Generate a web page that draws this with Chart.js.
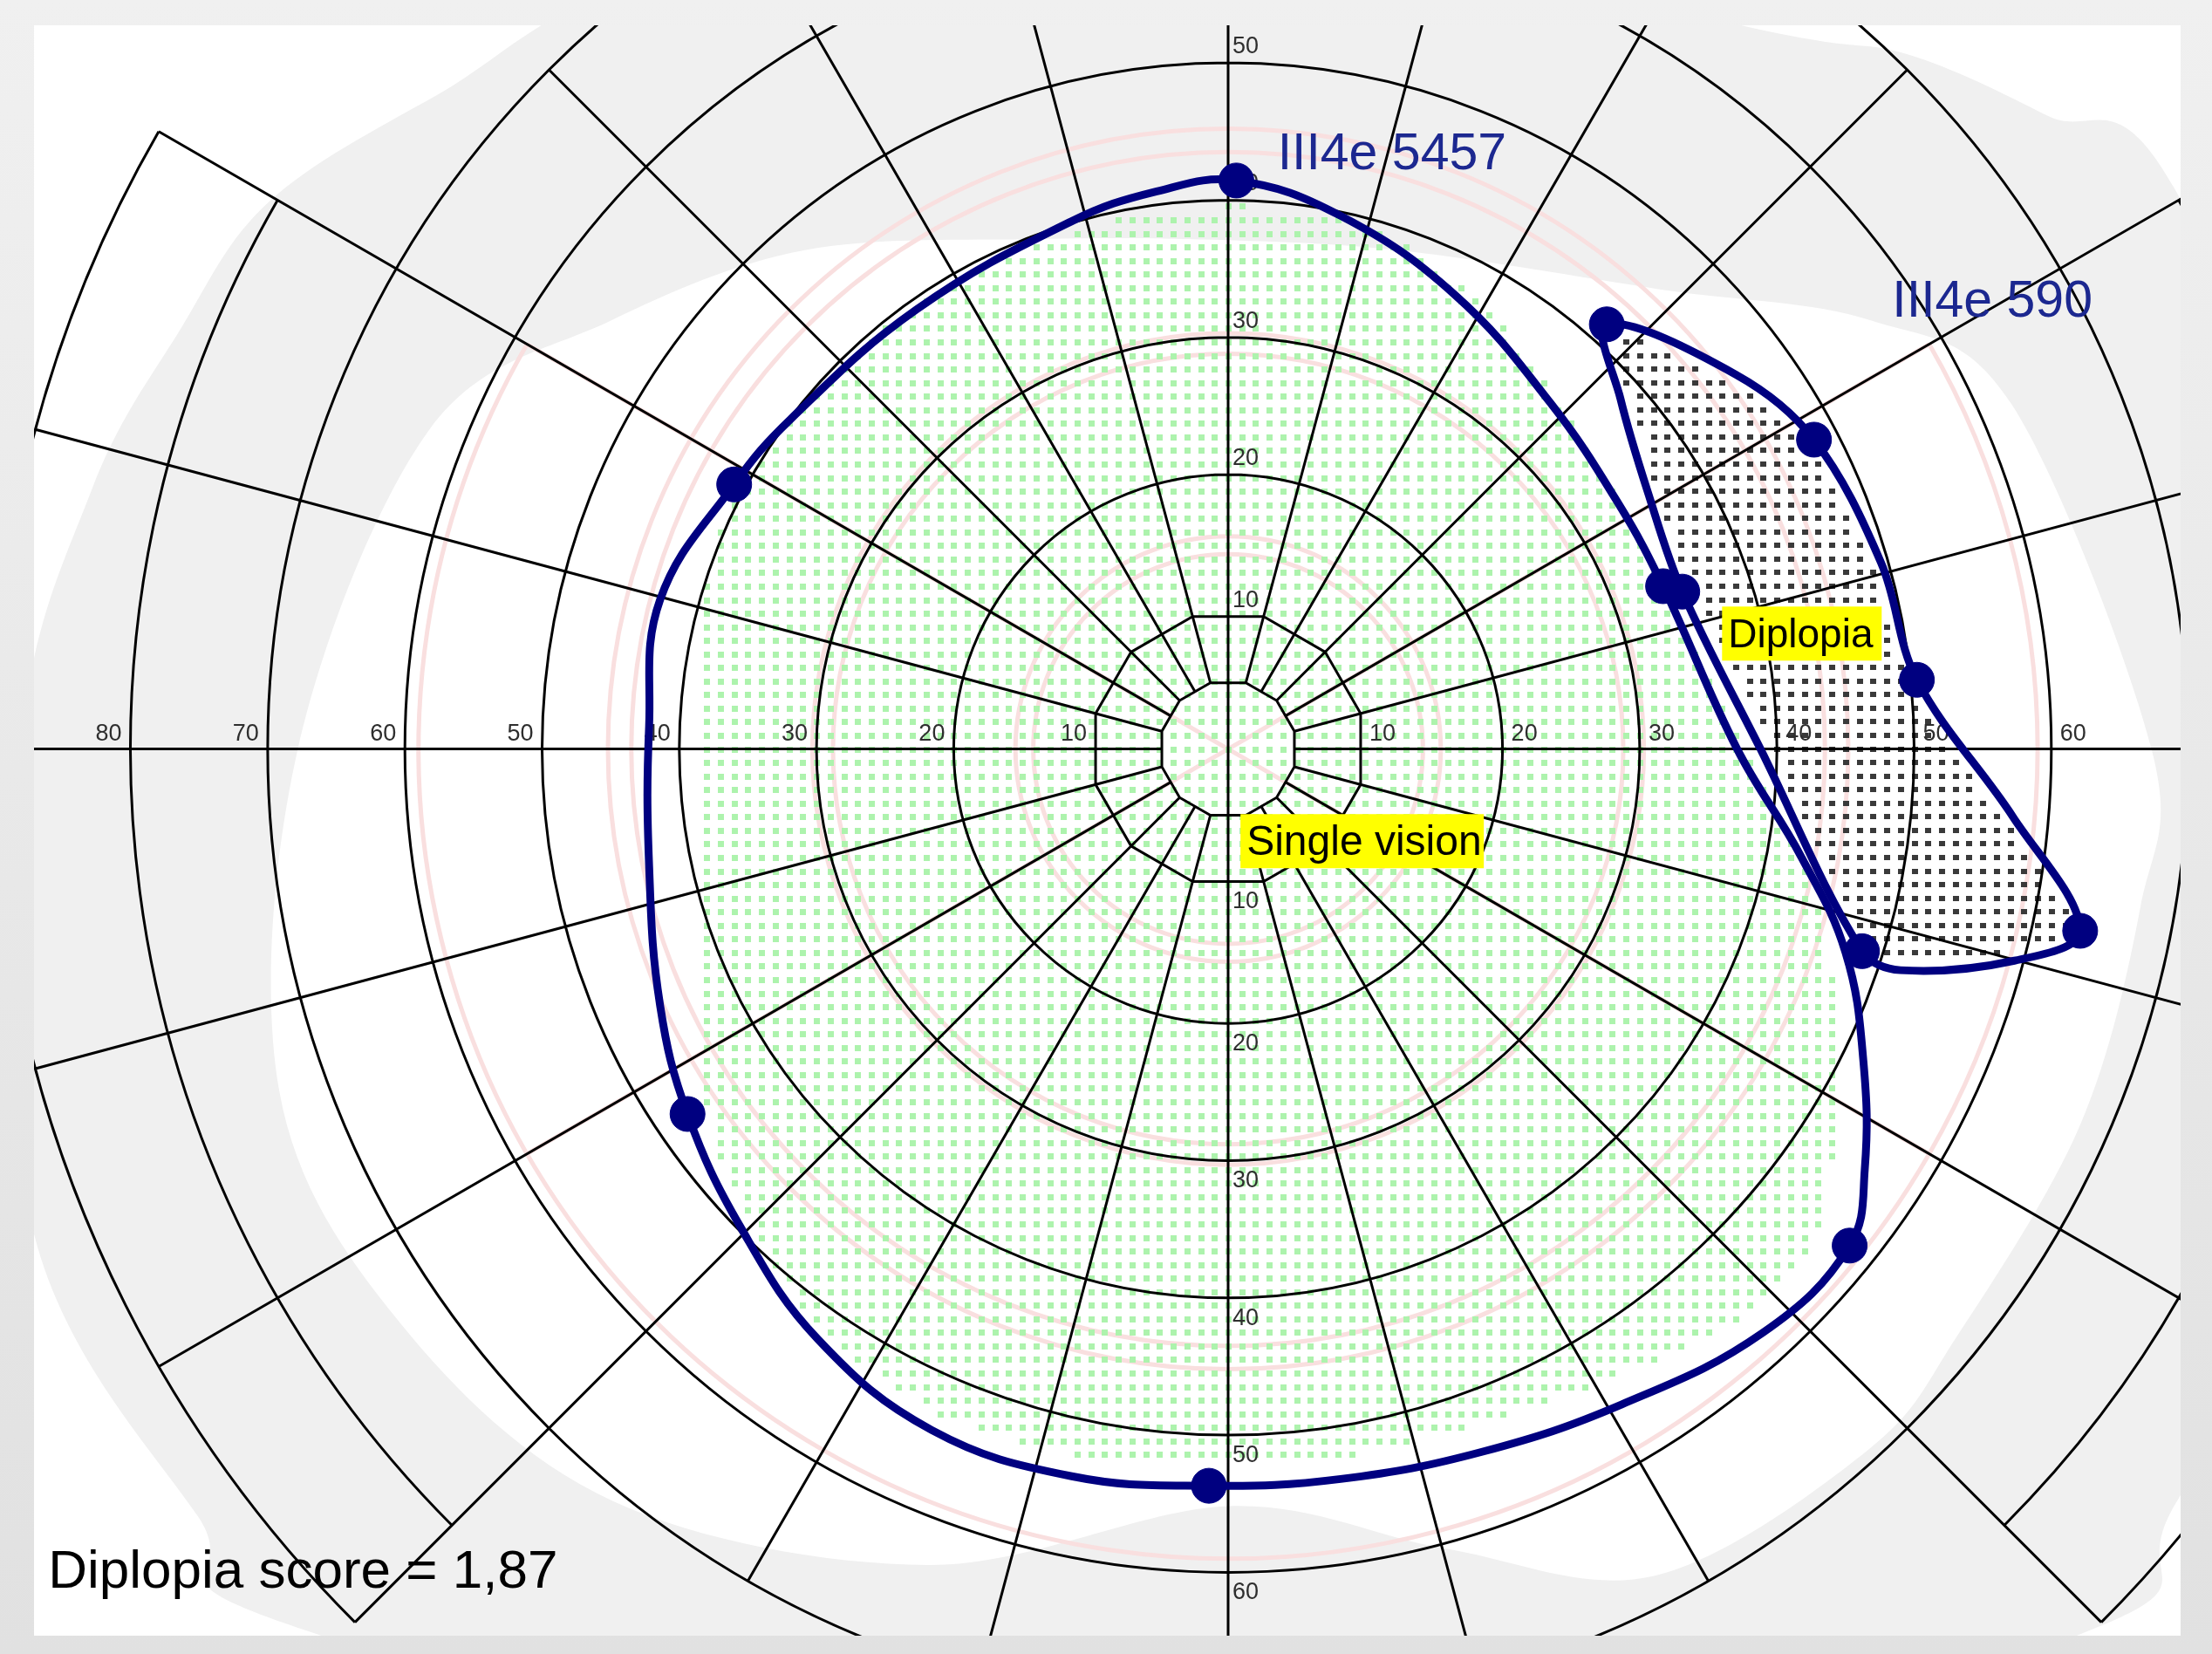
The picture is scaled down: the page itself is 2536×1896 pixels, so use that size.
<!DOCTYPE html>
<html>
<head>
<meta charset="utf-8">
<title>Diplopia field</title>
<script src="https://cdn.jsdelivr.net/npm/chart.js@4.4.1/dist/chart.umd.min.js"></script>
<style>
  html, body { margin: 0; padding: 0; background: #e9e9e9; }
  canvas { display: block; }
</style>
</head>
<body>
<canvas id="field" width="2536" height="1896"></canvas>
<script>
// Field positions are in degrees: x to the right, y upwards, fixation at (0, 0).

// Isopter III4e 5457 (outer limit of single vision); mark = 1 for tested points
const bigX    = [0.6, 8.2, 16.5, 23.5, 28.5, 31.7, 37.1, 41.8, 45.0, 46.3, 46.4, 45.3, 39.0, 28.7, 18.5, 8.2, -1.4, -11.4, -21.6, -29.9, -35.5, -39.4, -41.4, -42.2, -42.2, -41.4, -36.0, -31.9, -22.7, -11.4, -5.2];
const bigY    = [41.9, 39.3, 33.5, 25.5, 18.0, 12.0, 0.0, -8.0, -15.0, -23.0, -31.0, -36.6, -43.0, -48.3, -51.8, -53.8, -54.3, -53.6, -50.2, -43.5, -35.3, -26.9, -18.9, -8.6, 1.7, 11.0, 19.5, 24.3, 32.4, 38.9, 41.1];
const bigMark = [1, 0, 0, 0, 0, 1, 0, 0, 0, 0, 0, 1, 0, 0, 0, 0, 1, 0, 0, 0, 0, 1, 0, 0, 0, 0, 1, 0, 0, 0, 0];

// Isopter III4e 590 (diplopia zone)
const smallX    = [27.6, 37.0, 42.7, 47.6, 50.2, 57.2, 62.1, 57.3, 49.0, 46.2, 38.8, 33.1, 30.6, 28.6];
const smallY    = [31.3, 27.6, 22.8, 13.7, 5.1, -5.0, -13.4, -15.6, -16.3, -14.9, 0.0, 11.6, 18.9, 25.8];
const smallMark = [1, 0, 1, 0, 1, 0, 1, 0, 0, 1, 0, 1, 0, 0];

// Dotted single-vision area
const singleX = [-0.1, 9.2, 16.4, 22.6, 27.7, 31.8, 35.4, 39.5, 43.1, 44.2, 44.2, 43.1, 38.0, 28.7, 18.5, 8.2, -0.1, -10.3, -20.6, -28.8, -34.0, -37.6, -38.6, -38.6, -38.4, -38.1, -36.0, -31.9, -25.8, -17.5, -9.3];
const singleY = [40.0, 38.9, 34.6, 27.9, 19.7, 12.0, 4.8, -3.4, -11.7, -18.8, -27.1, -35.3, -41.5, -46.1, -49.7, -52.3, -52.8, -52.3, -49.2, -43.5, -36.3, -28.1, -18.9, -8.6, 1.7, 12.0, 18.2, 24.3, 30.5, 35.6, 38.7];

// Grey band of the normal field: meridian (deg) and eccentricity of its edges
const bandInAng  = [0, 24, 34, 47, 70, 90, 110, 130, 145, 158, 180, 200, 215, 231, 250, 270, 285, 297, 312, 321, 336, 350];
const bandInR    = [67.3, 62.5, 56.5, 46.3, 39, 37.5, 40, 48, 55, 62.8, 67.8, 73.6, 73.7, 71.3, 64, 55.8, 61, 68.4, 69.6, 68.5, 68, 67.5];
const bandOutAng = [0, 31, 38, 46, 54, 90, 125, 140, 150, 158, 167, 180, 202, 217, 224, 270, 313, 321, 340];
const bandOutR   = [86, 80.4, 75.8, 71.2, 65.6, 62, 70, 75.1, 80.7, 82.4, 85, 88, 94, 94, 93.5, 82, 89.7, 88.7, 87];

// Scoring zones (pink): rings, outer lateral/lower ring and sector lines
const zoneRings   = [14.2, 15.5, 28.8, 30.3, 43.5, 45.2];
const zoneOuterR  = 59;
const zoneOuterArc = [150, 390];
const zoneSpokes  = [30, 150, 210, 330];

// Perimeter grid
const polyRings    = [5, 10];
const ringRadii    = [20, 30, 40, 50, 60, 70];
const outerRings   = [80, 90];
const outerSectors = [[150, 225], [-45, 30]];
const spokeStep    = 15;

// Eccentricity labels along the axes
const tickLeft  = [80, 70, 60, 50, 40, 30, 20, 10];
const tickRight = [10, 20, 30, 40, 50, 60];
const tickUp    = [10, 20, 30, 40, 50];
const tickDown  = [10, 20, 30, 40, 50, 60];

const NAVY = '#000080';
const DEG = Math.PI / 180;
const FONT = '"Liberation Sans", Arial, sans-serif';

function geo(chart) {
  const xs = chart.scales.x, ys = chart.scales.y;
  const cx = xs.getPixelForValue(0), cy = ys.getPixelForValue(0);
  return { xs, ys, cx, cy, k: xs.getPixelForValue(1) - cx };
}
function toPx(chart, x, y) {
  return [chart.scales.x.getPixelForValue(x), chart.scales.y.getPixelForValue(y)];
}
function polarPx(chart, ang, r) {
  return toPx(chart, r * Math.cos(ang * DEG), r * Math.sin(ang * DEG));
}
function smoothClosed(path, pts) {
  const n = pts.length;
  path.moveTo(pts[0][0], pts[0][1]);
  for (let i = 0; i < n; i++) {
    const p0 = pts[(i - 1 + n) % n], p1 = pts[i], p2 = pts[(i + 1) % n], p3 = pts[(i + 2) % n];
    path.bezierCurveTo(p1[0] + (p2[0] - p0[0]) / 6, p1[1] + (p2[1] - p0[1]) / 6,
                       p2[0] - (p3[0] - p1[0]) / 6, p2[1] - (p3[1] - p1[1]) / 6, p2[0], p2[1]);
  }
  path.closePath();
}
function clipArea(chart, ctx) {
  const a = chart.chartArea;
  ctx.beginPath();
  ctx.rect(a.left, a.top, a.right - a.left, a.bottom - a.top);
  ctx.clip();
}
function isoPath(chart, i) {
  const line = chart.getDatasetMeta(i).dataset;
  line.updateControlPoints(chart.chartArea, 'x');
  const p = new Path2D();
  if (line.path(p)) p.closePath();
  return p;
}
function inOuterSector(a) {
  return outerSectors.some(([a0, a1]) => {
    const t = ((a - a0) % 360 + 360) % 360;
    return t <= a1 - a0;
  });
}

// Isopters are closed contours
const closedIsopters = {
  id: 'closedIsopters',
  afterDatasetsUpdate(chart) {
    chart.data.datasets.forEach((ds, i) => {
      const line = chart.getDatasetMeta(i).dataset;
      if (!line) return;
      line._loop = true;
      line._fullLoop = true;
      delete line._segments;
      line._path = undefined;
      line._pointsUpdated = false;
    });
  }
};

// Frame, grey band, zones, dotted areas, perimeter grid and axis numbers
const perimeterBackdrop = {
  id: 'perimeterBackdrop',
  beforeDraw(chart) {
    const ctx = chart.ctx, area = chart.chartArea;
    const { cx, cy, k, xs, ys } = geo(chart);

    const frame = ctx.createLinearGradient(0, 0, 0, chart.height);
    frame.addColorStop(0, '#f0f0f0');
    frame.addColorStop(1, '#e1e1e1');
    ctx.fillStyle = frame;
    ctx.fillRect(0, 0, chart.width, chart.height);
    ctx.fillStyle = '#ffffff';
    ctx.fillRect(area.left, area.top, area.right - area.left, area.bottom - area.top);

    ctx.save();
    clipArea(chart, ctx);

    // grey band
    const band = new Path2D();
    smoothClosed(band, bandOutAng.map((a, i) => polarPx(chart, a, bandOutR[i])));
    smoothClosed(band, bandInAng.map((a, i) => polarPx(chart, a, bandInR[i])));
    ctx.fillStyle = '#f0f0f0';
    ctx.fill(band, 'evenodd');

    // scoring zones
    ctx.strokeStyle = '#f9dfdf';
    ctx.lineWidth = 5;
    ctx.beginPath();
    for (const r of zoneRings) {
      ctx.moveTo(cx + r * k, cy);
      ctx.arc(cx, cy, r * k, 0, 2 * Math.PI);
    }
    ctx.moveTo(cx + zoneOuterR * k * Math.cos(zoneOuterArc[0] * DEG), cy - zoneOuterR * k * Math.sin(zoneOuterArc[0] * DEG));
    ctx.arc(cx, cy, zoneOuterR * k, -zoneOuterArc[0] * DEG, -zoneOuterArc[1] * DEG, true);
    for (const a of zoneSpokes) {
      ctx.moveTo(cx, cy);
      ctx.lineTo(cx + zoneOuterR * k * Math.cos(a * DEG), cy - zoneOuterR * k * Math.sin(a * DEG));
    }
    ctx.stroke();

    // dotted areas on a one-degree lattice
    const bigP = isoPath(chart, 0), smallP = isoPath(chart, 1);
    const singleP = new Path2D();
    smoothClosed(singleP, singleX.map((x, i) => toPx(chart, x, singleY[i])));
    ctx.lineWidth = 22;
    for (let gx = Math.ceil(xs.min); gx <= xs.max; gx++) {
      for (let gy = Math.ceil(ys.min); gy <= ys.max; gy++) {
        const [X, Y] = toPx(chart, gx, gy);
        if (ctx.isPointInPath(singleP, X, Y)) {
          ctx.fillStyle = '#adf3ad';
          ctx.fillRect(Math.round(X) - 3, Math.round(Y) - 3, 7, 7);
        } else if (ctx.isPointInPath(smallP, X, Y) && !ctx.isPointInPath(bigP, X, Y) &&
                   !ctx.isPointInStroke(bigP, X, Y) && !ctx.isPointInStroke(smallP, X, Y)) {
          ctx.fillStyle = '#3a3a3a';
          ctx.fillRect(Math.round(X) - 3, Math.round(Y) - 3, 7, 6);
        }
      }
    }

    // grid
    ctx.strokeStyle = '#000000';
    ctx.lineWidth = 3;
    ctx.beginPath();
    for (const r of polyRings) {
      for (let i = 0; i <= 12; i++) {
        const a = (15 + 30 * i) * DEG;
        const x = cx + r * k * Math.cos(a), y = cy - r * k * Math.sin(a);
        if (i === 0) ctx.moveTo(x, y); else ctx.lineTo(x, y);
      }
    }
    for (const r of ringRadii) {
      ctx.moveTo(cx + r * k, cy);
      ctx.arc(cx, cy, r * k, 0, 2 * Math.PI);
    }
    for (const [a0, a1] of outerSectors) {
      for (const r of outerRings) {
        ctx.moveTo(cx + r * k * Math.cos(a0 * DEG), cy - r * k * Math.sin(a0 * DEG));
        ctx.arc(cx, cy, r * k, -a0 * DEG, -a1 * DEG, true);
      }
    }
    const innerR = polyRings[0];
    for (let a = 0; a < 360; a += spokeStep) {
      if (a === 90 || a === 270) continue;
      const r0 = innerR * (a % 30 === 15 ? 1 : Math.cos(15 * DEG));
      const r1 = inOuterSector(a) ? outerRings[outerRings.length - 1] : ringRadii[ringRadii.length - 1];
      ctx.moveTo(cx + r0 * k * Math.cos(a * DEG), cy - r0 * k * Math.sin(a * DEG));
      ctx.lineTo(cx + r1 * k * Math.cos(a * DEG), cy - r1 * k * Math.sin(a * DEG));
    }
    ctx.moveTo(cx, area.top);
    ctx.lineTo(cx, area.bottom);
    ctx.stroke();

    // axis numbers
    const cross = v => v * k * (polyRings.includes(v) ? Math.cos(15 * DEG) : 1);
    ctx.fillStyle = '#2e2e2e';
    ctx.font = '27px ' + FONT;
    ctx.textBaseline = 'alphabetic';
    ctx.textAlign = 'right';
    for (const v of tickLeft) ctx.fillText(String(v), cx - cross(v) - 10, cy - 10);
    ctx.textAlign = 'left';
    for (const v of tickRight) ctx.fillText(String(v), cx + cross(v) + 10, cy - 10);
    for (const v of tickUp) ctx.fillText(String(v), cx + 5, cy - cross(v) - 11);
    ctx.textBaseline = 'top';
    for (const v of tickDown) ctx.fillText(String(v), cx + 5, cy + cross(v) + 10);
    ctx.restore();
  }
};

// Isopter names, zone captions and score
const fieldCaptions = {
  id: 'fieldCaptions',
  afterDatasetsDraw(chart) {
    const ctx = chart.ctx;
    ctx.save();
    ctx.textAlign = 'left';
    ctx.textBaseline = 'middle';
    ctx.font = '59px ' + FONT;
    ctx.fillStyle = '#1c2890';
    let [x, y] = toPx(chart, 3.6, 43.8);
    ctx.fillText(chart.data.datasets[0].label, x, y);
    [x, y] = toPx(chart, 48.4, 32.9);
    ctx.fillText(chart.data.datasets[1].label, x, y);

    const tag = (text, gx, gy, size, w, h) => {
      const [bx, by] = toPx(chart, gx, gy);
      ctx.fillStyle = '#ffff00';
      ctx.fillRect(bx, by, w, h);
      ctx.fillStyle = '#000000';
      ctx.font = size + 'px ' + FONT;
      ctx.textBaseline = 'alphabetic';
      ctx.fillText(text, bx + 7, by + h - 15);
    };
    tag('Diplopia', 36.0, 10.5, 46, 183, 62);
    tag('Single vision', 0.9, -4.8, 48, 279, 62);

    ctx.font = '62px ' + FONT;
    ctx.fillStyle = '#000000';
    ctx.textBaseline = 'alphabetic';
    [x, y] = toPx(chart, -86.0, -61.8);
    ctx.fillText('Diplopia score = 1,87', x, y);
    ctx.restore();
  }
};

const toPoints = (xs, ys) => xs.map((x, i) => ({ x, y: ys[i] }));

new Chart(document.getElementById('field'), {
  type: 'scatter',
  data: {
    datasets: [
      {
        label: 'III4e 5457',
        data: toPoints(bigX, bigY),
        showLine: true,
        tension: 0.4,
        borderColor: NAVY,
        borderWidth: 9,
        pointRadius: bigMark.map(m => (m ? 20 : 0)),
        pointBackgroundColor: NAVY,
        pointBorderColor: NAVY,
        pointBorderWidth: 1,
        clip: false
      },
      {
        label: 'III4e 590',
        data: toPoints(smallX, smallY),
        showLine: true,
        tension: 0.35,
        borderColor: NAVY,
        borderWidth: 9,
        pointRadius: smallMark.map(m => (m ? 20 : 0)),
        pointBackgroundColor: NAVY,
        pointBorderColor: NAVY,
        pointBorderWidth: 1,
        clip: false
      }
    ]
  },
  options: {
    responsive: false,
    animation: false,
    devicePixelRatio: 1,
    events: [],
    layout: { padding: { left: 39, right: 36, top: 29, bottom: 0 } },
    scales: {
      x: { type: 'linear', min: -87.03, max: 69.42, display: false },
      y: { type: 'linear', min: -65.35, max: 53.34, display: false }
    },
    plugins: { legend: { display: false }, tooltip: { enabled: false } }
  },
  plugins: [closedIsopters, perimeterBackdrop, fieldCaptions]
});
</script>
</body>
</html>
